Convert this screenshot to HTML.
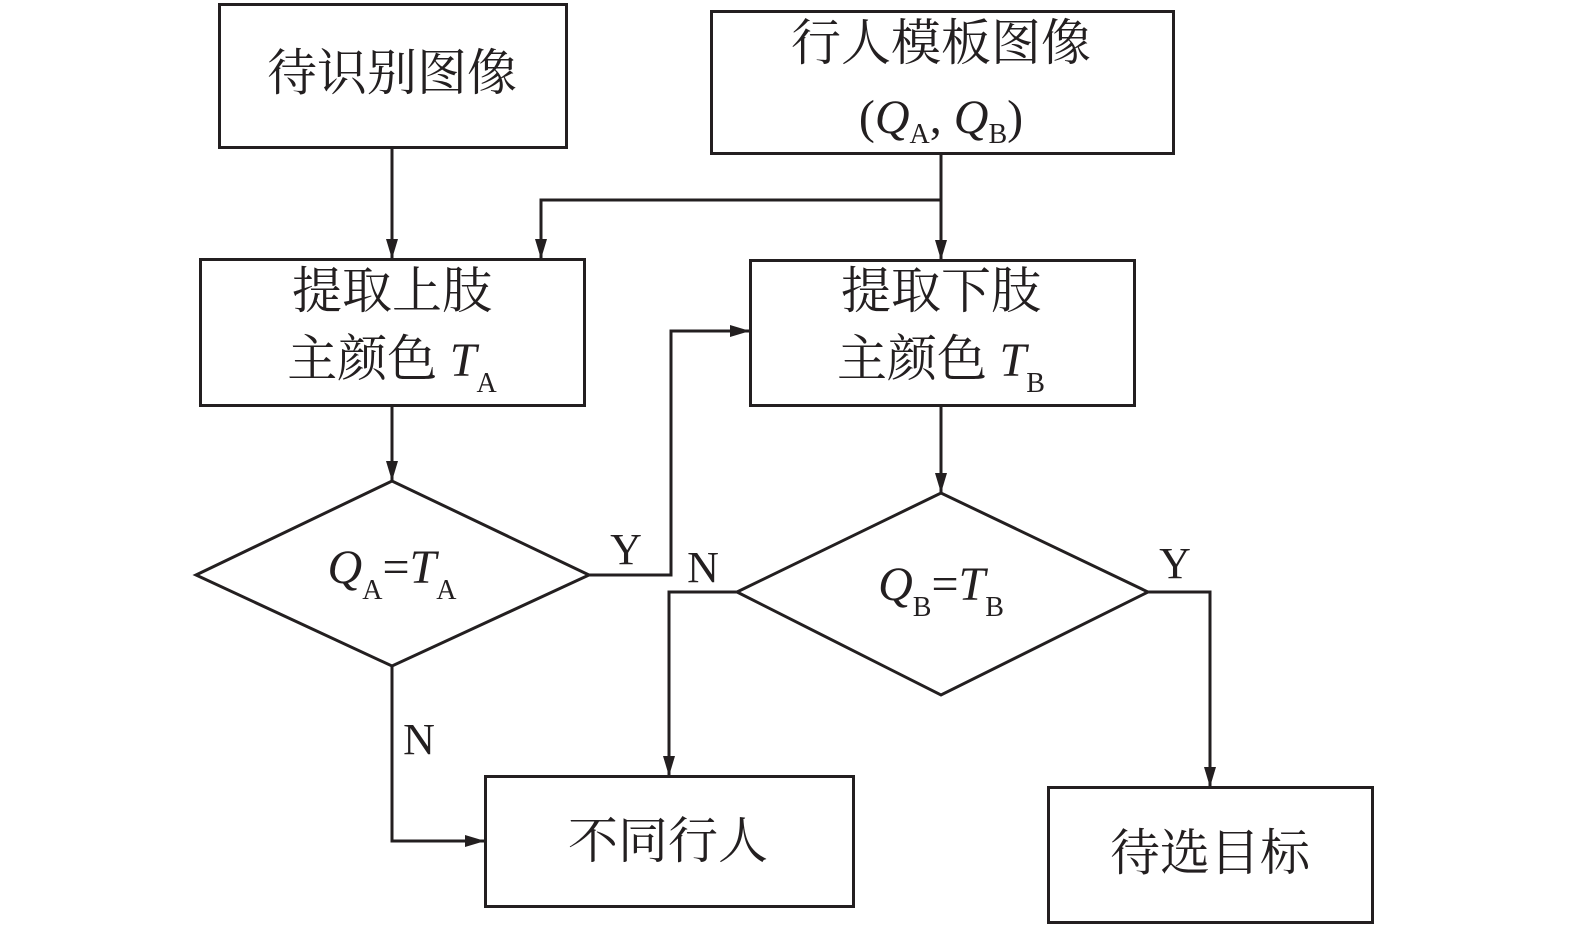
<!DOCTYPE html>
<html><head><meta charset="utf-8"><style>
html,body{margin:0;padding:0;background:#fff;}
svg{display:block}
text{font-family:"Liberation Serif","Noto Serif CJK SC",serif;fill:#231f20}
.c{font-size:50px}
.i{font-style:italic;font-size:48px}
.s{font-size:28px}
.l{font-size:44px}
</style></head><body>
<svg width="1575" height="931" viewBox="0 0 1575 931" xmlns="http://www.w3.org/2000/svg">
<defs><marker id="a" markerWidth="20" markerHeight="12" refX="19" refY="6" orient="auto" markerUnits="userSpaceOnUse"><path d="M0,0 L20,6 L0,12 z" fill="#231f20"/></marker></defs>
<g fill="none" stroke="#231f20" stroke-width="3">
<rect x="219.5" y="4.5" width="347" height="143"/>
<rect x="711.5" y="11.5" width="462" height="142"/>
<rect x="200.5" y="259.5" width="384" height="146"/>
<rect x="750.5" y="260.5" width="384" height="145"/>
<rect x="485.5" y="776.5" width="368" height="130"/>
<rect x="1048.5" y="787.5" width="324" height="135"/>
<polygon points="196,575 392,481 589,575 392,666"/>
<polygon points="737,592 941,493 1148,592 941,695"/>
<path d="M392,147 V258" marker-end="url(#a)"/>
<path d="M941,153 V259" marker-end="url(#a)"/>
<path d="M941,200 H541 V258" marker-end="url(#a)"/>
<path d="M392,405 V480" marker-end="url(#a)"/>
<path d="M941,405 V492" marker-end="url(#a)"/>
<path d="M589,575 H671 V331 H749" marker-end="url(#a)"/>
<path d="M737,592 H669 V775" marker-end="url(#a)"/>
<path d="M1148,592 H1210 V786" marker-end="url(#a)"/>
<path d="M392,666 V841 H484" marker-end="url(#a)"/>
</g>
<text class="c" x="392" y="90" text-anchor="middle">待识别图像</text>
<text class="c" x="941" y="60" text-anchor="middle">行人模板图像</text>
<text x="941" y="133" text-anchor="middle"><tspan font-size="48">(</tspan><tspan class="i">Q</tspan><tspan class="s" dy="10">A</tspan><tspan font-size="48" dy="-10">, </tspan><tspan class="i">Q</tspan><tspan class="s" dy="10">B</tspan><tspan font-size="48" dy="-10">)</tspan></text>
<text class="c" x="392" y="308" text-anchor="middle">提取上肢</text>
<text x="392" y="376" text-anchor="middle"><tspan class="c">主颜色 </tspan><tspan class="i">T</tspan><tspan class="s" dy="16">A</tspan></text>
<text class="c" x="941" y="308" text-anchor="middle">提取下肢</text>
<text x="941" y="376" text-anchor="middle"><tspan class="c">主颜色 </tspan><tspan class="i">T</tspan><tspan class="s" dy="16">B</tspan></text>
<text x="392" y="583" text-anchor="middle"><tspan class="i">Q</tspan><tspan class="s" dy="16">A</tspan><tspan font-size="48" dy="-16">=</tspan><tspan class="i">T</tspan><tspan class="s" dy="16">A</tspan></text>
<text x="941" y="600" text-anchor="middle"><tspan class="i">Q</tspan><tspan class="s" dy="16">B</tspan><tspan font-size="48" dy="-16">=</tspan><tspan class="i">T</tspan><tspan class="s" dy="16">B</tspan></text>
<text class="l" x="626" y="564" text-anchor="middle">Y</text>
<text class="l" x="703" y="582" text-anchor="middle">N</text>
<text class="l" x="1175" y="578" text-anchor="middle">Y</text>
<text class="l" x="419" y="754" text-anchor="middle">N</text>
<text class="c" x="668" y="858" text-anchor="middle">不同行人</text>
<text class="c" x="1210" y="870" text-anchor="middle">待选目标</text>
</svg>
</body></html>
